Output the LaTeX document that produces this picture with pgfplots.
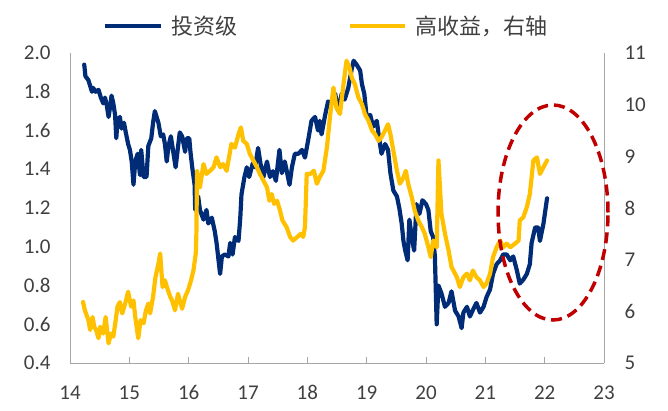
\documentclass[border=0pt]{standalone}
\usepackage{pgfplots}
\pgfplotsset{compat=1.18}
\usepackage{fontspec}
\setmainfont{Carlito}
\newfontfamily\cjk{Noto Sans CJK SC}
\definecolor{navy}{HTML}{002C77}
\definecolor{gold}{HTML}{FFC000}
\definecolor{redd}{HTML}{C00000}
\definecolor{axgray}{HTML}{A6A6A6}
\definecolor{txtgray}{HTML}{404040}
\begin{document}
\begin{tikzpicture}
\useasboundingbox (0pt,0pt) rectangle (668pt,410pt);
\begin{axis}[
  at={(70pt,47pt)}, anchor=south west, scale only axis,
  width=534pt, height=310pt,
  xmin=14, xmax=23, ymin=0.4, ymax=2.0,
  axis y line*=left, axis x line*=bottom,
  axis line style={axgray, line width=1pt, -},
  xtick={14,15,16,17,18,19,20,21,22,23},
  ytick={0.4,0.6,0.8,1.0,1.2,1.4,1.6,1.8,2.0},
  yticklabel style={/pgf/number format/.cd, fixed, fixed zerofill, precision=1, /tikz/.cd},
  tick label style={font=\fontsize{21}{24}\selectfont, text=txtgray},
  /pgf/number format/assume math mode=true,
  xticklabel style={yshift=-19pt},
  yticklabel style={xshift=-16pt},
  xtick style={axgray, line width=1pt},
  ytick style={draw=none},
  tick align=inside, major tick length=6pt,
  clip=false,
]
\addplot[navy, line width=4.2pt, line join=round, line cap=round] coordinates {
(14.24,1.94)(14.26,1.88)(14.31,1.86)(14.34,1.83)(14.37,1.80)(14.39,1.82)(14.43,1.80)(14.48,1.81)
(14.52,1.77)(14.56,1.74)(14.59,1.77)(14.62,1.73)(14.65,1.67)(14.67,1.71)(14.70,1.78)(14.73,1.74)
(14.76,1.68)(14.78,1.56)(14.80,1.65)(14.84,1.67)(14.87,1.61)(14.91,1.64)(14.94,1.59)(14.98,1.53)
(15.01,1.50)(15.04,1.44)(15.07,1.32)(15.10,1.44)(15.14,1.48)(15.18,1.37)(15.20,1.50)(15.24,1.36)
(15.29,1.36)(15.32,1.52)(15.37,1.56)(15.40,1.64)(15.43,1.70)(15.46,1.67)(15.49,1.64)(15.53,1.57)
(15.57,1.58)(15.60,1.53)(15.63,1.44)(15.66,1.52)(15.70,1.57)(15.74,1.49)(15.78,1.41)(15.83,1.54)
(15.85,1.59)(15.89,1.57)(15.94,1.49)(15.97,1.56)(16.01,1.56)(16.03,1.49)(16.06,1.41)(16.10,1.32)
(16.11,1.19)(16.16,1.26)(16.19,1.19)(16.25,1.14)(16.30,1.19)(16.33,1.12)(16.39,1.15)(16.44,1.08)
(16.47,1.02)(16.53,0.86)(16.56,0.95)(16.61,0.96)(16.67,0.95)(16.70,1.02)(16.74,0.96)(16.78,1.05)
(16.84,1.03)(16.87,1.15)(16.89,1.27)(16.94,1.36)(16.98,1.41)(17.02,1.36)(17.08,1.43)(17.12,1.41)
(17.17,1.51)(17.21,1.43)(17.26,1.36)(17.32,1.44)(17.37,1.36)(17.42,1.39)(17.47,1.34)(17.53,1.50)
(17.57,1.38)(17.62,1.44)(17.70,1.32)(17.74,1.41)(17.79,1.48)(17.85,1.48)(17.91,1.50)(17.96,1.46)
(18.02,1.56)(18.07,1.65)(18.13,1.67)(18.18,1.60)(18.21,1.65)(18.24,1.58)(18.30,1.68)(18.35,1.75)
(18.41,1.74)(18.47,1.79)(18.52,1.70)(18.58,1.79)(18.63,1.76)(18.69,1.82)(18.75,1.92)(18.78,1.96)
(18.83,1.94)(18.89,1.91)(18.92,1.84)(18.96,1.79)(19.00,1.67)(19.06,1.68)(19.11,1.62)(19.17,1.65)
(19.21,1.56)(19.25,1.48)(19.31,1.53)(19.36,1.50)(19.40,1.38)(19.45,1.29)(19.51,1.26)(19.55,1.20)
(19.59,1.12)(19.62,1.03)(19.65,0.98)(19.69,0.93)(19.72,1.14)(19.76,1.05)(19.80,0.98)(19.84,1.22)
(19.89,1.17)(19.94,1.24)(20.00,1.22)(20.04,1.19)(20.08,1.08)(20.12,1.05)(20.15,0.95)(20.18,0.60)
(20.21,0.80)(20.26,0.76)(20.32,0.69)(20.38,0.71)(20.43,0.77)(20.49,0.67)(20.55,0.64)(20.60,0.58)
(20.63,0.66)(20.69,0.69)(20.74,0.64)(20.80,0.68)(20.85,0.71)(20.91,0.66)(20.97,0.69)(21.02,0.74)
(21.08,0.78)(21.13,0.86)(21.19,0.91)(21.25,0.93)(21.30,0.96)(21.36,0.96)(21.42,0.93)(21.47,0.95)
(21.53,0.88)(21.58,0.81)(21.64,0.83)(21.70,0.86)(21.75,0.91)(21.78,1.02)(21.84,1.10)(21.89,1.10)
(21.92,1.03)(21.98,1.12)(22.04,1.25)
};
\end{axis}
\begin{axis}[
  at={(70pt,47pt)}, anchor=south west, scale only axis,
  width=534pt, height=310pt,
  xmin=14, xmax=23, ymin=5, ymax=11,
  axis y line*=right, axis x line=none,
  axis line style={axgray, line width=1pt, -},
  ytick={5,6,7,8,9,10,11},
  tick label style={font=\fontsize{21}{24}\selectfont, text=txtgray},
  /pgf/number format/assume math mode=true,
  yticklabel style={xshift=17pt},
  ytick style={draw=none},
  clip=false,
]
\addplot[gold, line width=4.2pt, line join=round, line cap=round] coordinates {
(14.22,6.18)(14.25,6.02)(14.31,5.83)(14.34,5.64)(14.38,5.89)(14.41,5.70)(14.44,5.64)(14.48,5.48)
(14.51,5.70)(14.56,5.57)(14.60,5.89)(14.65,5.38)(14.69,5.57)(14.73,5.51)(14.77,5.83)(14.80,6.09)
(14.84,6.18)(14.88,5.96)(14.93,6.15)(14.98,6.38)(15.03,6.09)(15.07,6.21)(15.10,5.89)(15.15,5.48)
(15.19,5.83)(15.24,5.77)(15.28,6.02)(15.32,6.15)(15.35,5.96)(15.40,6.28)(15.44,6.66)(15.49,6.92)
(15.52,7.12)(15.56,6.47)(15.60,6.60)(15.65,6.41)(15.69,6.28)(15.72,6.21)(15.77,6.02)(15.82,6.34)
(15.85,6.21)(15.89,6.05)(15.94,6.28)(15.99,6.41)(16.04,6.60)(16.08,6.79)(16.12,7.12)(16.13,7.50)
(16.14,8.72)(16.19,8.40)(16.25,8.85)(16.30,8.66)(16.36,8.72)(16.42,8.79)(16.47,8.98)(16.53,8.79)
(16.58,8.85)(16.64,8.72)(16.68,8.98)(16.72,9.24)(16.78,9.17)(16.84,9.43)(16.88,9.56)(16.92,9.30)
(16.98,9.24)(17.03,9.05)(17.09,8.92)(17.15,8.79)(17.20,8.66)(17.26,8.53)(17.32,8.40)(17.36,8.14)
(17.40,8.27)(17.44,8.08)(17.49,8.14)(17.54,7.95)(17.58,7.76)(17.65,7.63)(17.71,7.44)(17.76,7.37)
(17.83,7.44)(17.89,7.50)(17.93,7.44)(17.96,7.63)(17.99,8.66)(18.05,8.66)(18.11,8.72)(18.16,8.47)
(18.21,8.60)(18.27,8.72)(18.33,9.17)(18.38,9.75)(18.44,10.33)(18.49,9.94)(18.55,9.82)(18.61,10.40)
(18.66,10.85)(18.71,10.72)(18.75,10.52)(18.80,10.40)(18.86,10.14)(18.92,10.01)(18.97,9.82)(19.03,9.69)
(19.09,9.50)(19.14,9.43)(19.20,9.30)(19.25,9.37)(19.31,9.50)(19.36,9.62)(19.40,9.43)(19.45,9.11)
(19.51,8.72)(19.56,8.47)(19.62,8.59)(19.66,8.72)(19.70,8.47)(19.76,8.21)(19.81,7.95)(19.87,7.76)
(19.93,7.63)(19.98,7.50)(20.04,7.24)(20.08,7.05)(20.12,7.37)(20.18,7.24)(20.21,8.92)(20.26,7.89)
(20.32,7.50)(20.38,7.18)(20.43,6.86)(20.52,6.66)(20.57,6.47)(20.63,6.66)(20.69,6.73)(20.74,6.60)
(20.79,6.79)(20.85,6.66)(20.91,6.60)(20.97,6.47)(21.02,6.54)(21.08,6.73)(21.13,7.05)(21.19,7.24)
(21.25,7.37)(21.30,7.24)(21.36,7.31)(21.42,7.24)(21.50,7.31)(21.56,7.37)(21.58,7.76)(21.64,7.82)
(21.70,8.02)(21.75,8.27)(21.81,8.92)(21.87,8.98)(21.92,8.66)(21.98,8.79)(22.04,8.92)
};
\end{axis}
\draw[redd, line width=3.5pt, dash pattern=on 11pt off 6pt] (553pt,197.5pt) ellipse [x radius=55pt, y radius=107.5pt];
\draw[navy, line width=4.2pt] (105pt,384pt) -- (161pt,384pt);
\node[anchor=west, inner sep=0pt, text=txtgray, font=\cjk\fontsize{22}{24}\selectfont] at (171pt,384pt) {投资级};
\draw[gold, line width=4.2pt] (350pt,384pt) -- (405pt,384pt);
\node[anchor=west, inner sep=0pt, text=txtgray, font=\cjk\fontsize{22}{24}\selectfont] at (415pt,384pt) {高收益，右轴};
\end{tikzpicture}
\end{document}
